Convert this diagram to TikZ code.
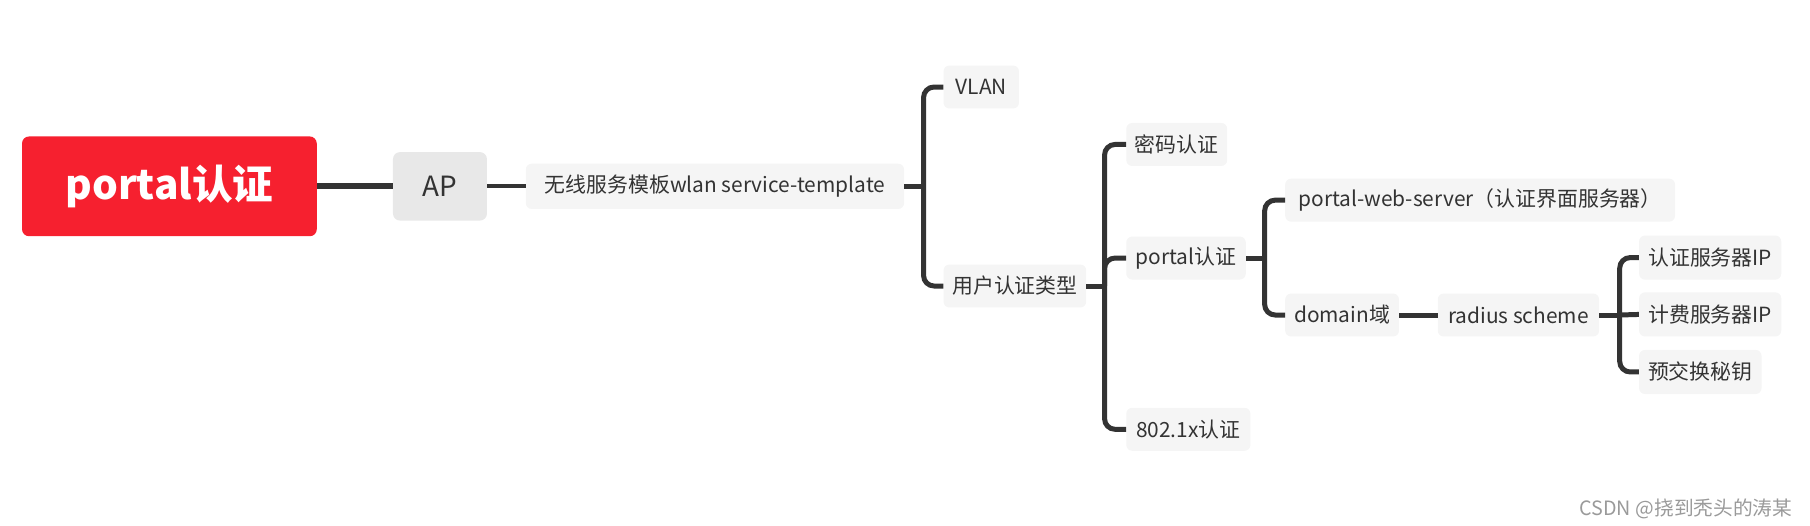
\documentclass[tikz,border=0pt]{standalone}
\usepackage{fontspec}
\setmainfont{Noto Sans CJK SC}
\definecolor{rootred}{HTML}{F6202F}
\definecolor{apgray}{HTML}{E8E8E8}
\definecolor{boxgray}{HTML}{F5F5F5}
\definecolor{textc}{HTML}{333333}
\definecolor{linec}{HTML}{333333}
\definecolor{wmark}{HTML}{9A9A9A}
\begin{document}
\begin{tikzpicture}[x=1pt,y=-1pt,
  topic/.style={rounded corners=5pt, fill=boxgray, text=textc, inner sep=0pt,
    font=\fontsize{18}{21}\selectfont, minimum height=37pt, anchor=west},
  conn/.style={draw=linec, line width=4.3pt, rounded corners=9pt},
  thick conn/.style={draw=linec, line width=5.2pt}]
\useasboundingbox (0,0) rectangle (1560,452.5);
% root
\node[fill=rootred, rounded corners=6pt, text=white, inner sep=0pt,
  minimum width=254pt, minimum height=86pt,
  font=\fontsize{35}{42}\selectfont\bfseries] (root) at (146,160.6) {portal认证};
\node[fill=apgray, rounded corners=6pt, text=textc, inner sep=0pt,
  minimum width=81pt, minimum height=59pt,
  font=\fontsize{24}{28}\selectfont] (ap) at (379.2,160.6) {AP};
\node[topic, minimum width=326pt, minimum height=39pt] (tmpl) at (453,160.6) {无线服务模板wlan service-template};
\node[topic, minimum width=65pt] (vlan) at (813,75) {VLAN};
\node[topic, minimum width=123pt] (user) at (813,246.5) {用户认证类型};
\node[topic, minimum width=87pt] (mima) at (970.5,124.5) {密码认证};
\node[topic, minimum width=103pt] (portal) at (970.5,222.4) {portal认证};
\node[topic, minimum width=107pt] (dot1x) at (970.5,370) {802.1x认证};
\node[topic, minimum width=336pt] (pws) at (1107.5,172.5) {portal-web-server（认证界面服务器）};
\node[topic, minimum width=98pt] (dom) at (1107.5,271.5) {domain域};
\node[topic, minimum width=139pt] (rad) at (1239,271.5) {radius scheme};
\node[topic, minimum width=122.5pt, minimum height=38pt] (ip1) at (1412.5,222) {认证服务器IP};
\node[topic, minimum width=122.5pt, minimum height=38pt] (ip2) at (1412.5,271) {计费服务器IP};
\node[topic, minimum width=105.5pt, minimum height=38pt] (key) at (1412.5,320.6) {预交换秘钥};
% junctions
\coordinate (j1) at (796,160.6);
\coordinate (j2) at (952,246.5);
\coordinate (j3) at (1090,222.4);
\coordinate (j4) at (1396,271.5);
% connectors
\draw[thick conn] (root.east) -- (ap.west);
\draw[conn, line width=3.7pt] (ap.east) -- (tmpl.west);
\draw[conn] (tmpl.east) -- (j1);
\draw[conn] (vlan.west) -| (j1) |- (user.west);
\draw[conn] (user.east) -- (j2);
\draw[conn] (mima.west) -| (j2) |- (dot1x.west);
\draw[conn] (j2) |- (portal.west);
\draw[conn] (portal.east) -- (j3);
\draw[conn] (pws.west) -| (j3) |- (dom.west);
\draw[conn] (dom.east) -- (rad.west);
\draw[conn] (rad.east) -- (j4);
\draw[conn] (ip1.west) -| (j4) |- (key.west);
\draw[conn] (j4) -- (ip2.west);
% watermark
\node[anchor=east, text=wmark, inner sep=0pt, font=\fontsize{17}{20}\selectfont] (wm) at (1545,438.5) {CSDN @挠到秃头的涛某};
\end{tikzpicture}
\end{document}
